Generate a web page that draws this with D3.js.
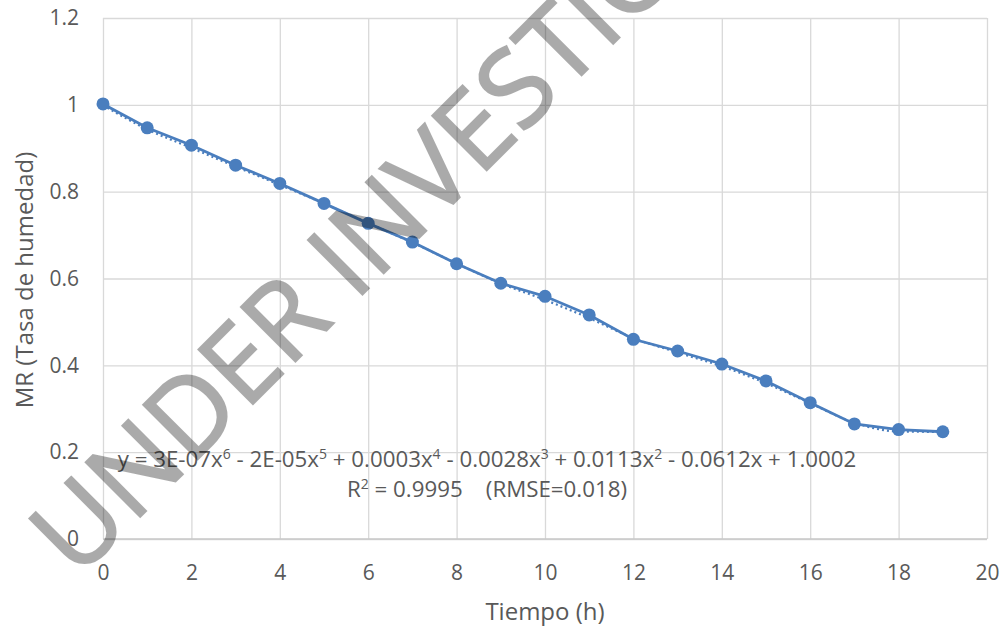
<!DOCTYPE html>
<html>
<head>
<meta charset="utf-8">
<script src="https://cdn.jsdelivr.net/npm/d3@7"></script>
<style>
  html, body { margin: 0; padding: 0; background: #fff; }
  svg { display: block; }
  text { font-family: "Open Sans", "Liberation Sans", sans-serif; }
</style>
</head>
<body>
<svg id="chart" width="1003" height="629"></svg>
<script>
// ---- data ----
const timeH = [0, 1, 2, 3, 4, 5, 6, 7, 8, 9, 10, 11, 12, 13, 14, 15, 16, 17, 18, 19];
const mrValues = [1.002, 0.947, 0.907, 0.861, 0.819, 0.773, 0.727, 0.684, 0.634, 0.589,
                  0.559, 0.516, 0.460, 0.433, 0.403, 0.364, 0.314, 0.265, 0.252, 0.247];
const trendValues = [1.001, 0.946, 0.903, 0.860, 0.818, 0.775, 0.730, 0.685, 0.637, 0.591,
                     0.553, 0.511, 0.465, 0.432, 0.400, 0.361, 0.315, 0.270, 0.250, 0.249];
const xTicks = [0, 2, 4, 6, 8, 10, 12, 14, 16, 18, 20];
const yTicks = [0, 0.2, 0.4, 0.6, 0.8, 1, 1.2];
const xTitle = "Tiempo (h)";
const yTitle = "MR (Tasa de humedad)";
// equation parts: [text, isSuperscript]
const eqParts = [["y = 3E-07x", 0], ["6", 1], [" - 2E-05x", 0], ["5", 1], [" + 0.0003x", 0], ["4", 1],
                 [" - 0.0028x", 0], ["3", 1], [" + 0.0113x", 0], ["2", 1], [" - 0.0612x + 1.0002", 0]];
const r2Parts = [["R", 0], ["2", 1], [" = 0.9995    (RMSE=0.018)", 0]];
const watermark = "UNDER INVESTIGATION";

// ---- layout ----
const svg = d3.select("#chart");
const x = d3.scaleLinear().domain([0, 20]).range([103, 987]);
const y = d3.scaleLinear().domain([0, 1.2]).range([539, 18]);
const blue = "#4a7ebe";
const txt = "#595959";

// gridlines
const gx = svg.append("g").attr("transform", "translate(0,539)")
  .call(d3.axisBottom(x).tickValues(xTicks).tickSize(-(539 - 18)).tickFormat(d => d3.format("d")(d)).tickPadding(21));
gx.select(".domain").remove();
gx.selectAll("line").attr("stroke", "#d9d9d9").attr("stroke-width", 1.3);
gx.selectAll("text").attr("fill", txt).attr("font-size", 21).attr("dy", "0.95em");

const gy = svg.append("g").attr("transform", "translate(103,0)")
  .call(d3.axisLeft(y).tickValues(yTicks).tickSize(-(987 - 103)).tickFormat(d => d === 0 ? "0" : d3.format("")(d)).tickPadding(24));
gy.select(".domain").remove();
gy.selectAll("line").attr("stroke", "#d9d9d9").attr("stroke-width", 1.3);
gy.selectAll("text").attr("fill", txt).attr("font-size", 21);

// bottom axis line
svg.append("line").attr("x1", x(0)).attr("x2", x(20)).attr("y1", y(0)).attr("y2", y(0))
  .attr("stroke", "#c8c8c8").attr("stroke-width", 1.5);

// axis titles
svg.append("text").attr("x", 545).attr("y", 620).attr("text-anchor", "middle")
  .attr("font-size", 24).attr("fill", txt).text(xTitle);
svg.append("text").attr("transform", "translate(33,280) rotate(-90)").attr("text-anchor", "middle")
  .attr("font-size", 24).attr("fill", txt).text(yTitle);

// trendline (dotted)
const pts = timeH.map((t, i) => ({ t, v: mrValues[i], f: trendValues[i] }));
svg.append("path").datum(pts)
  .attr("fill", "none").attr("stroke", blue).attr("stroke-width", 2.2).attr("stroke-dasharray", "2,3")
  .attr("d", d3.line().x(d => x(d.t)).y(d => y(d.f) + 1).curve(d3.curveMonotoneX));

// data line
svg.append("path").datum(pts)
  .attr("fill", "none").attr("stroke", blue).attr("stroke-width", 2.8)
  .attr("d", d3.line().x(d => x(d.t)).y(d => y(d.v)));

// markers
svg.append("g").selectAll("circle").data(pts).join("circle")
  .attr("cx", d => x(d.t)).attr("cy", d => y(d.v)).attr("r", 6.5).attr("fill", blue);

// equation labels
function addRich(parts, cx, cy) {
  const t = svg.append("text").attr("x", cx).attr("y", cy).attr("text-anchor", "middle")
    .attr("font-size", 22.3).attr("fill", txt).style("white-space", "pre");
  let prevSup = 0;
  parts.forEach(([s, sup]) => {
    const ts = t.append("tspan").text(s);
    if (sup) { ts.attr("font-size", 14).attr("dy", prevSup ? 0 : -8); }
    else { ts.attr("dy", prevSup ? 8 : 0); }
    prevSup = sup;
  });
}
addRich(eqParts, 487, 467);
addRich(r2Parts, 487, 497);

// watermark
svg.append("text")
  .attr("transform", "translate(77,580) rotate(-45)")
  .attr("font-size", 108).attr("fill", "#000").attr("stroke", "#000").attr("stroke-width", 2)
  .attr("opacity", 0.33).text(watermark);
</script>
</body>
</html>
